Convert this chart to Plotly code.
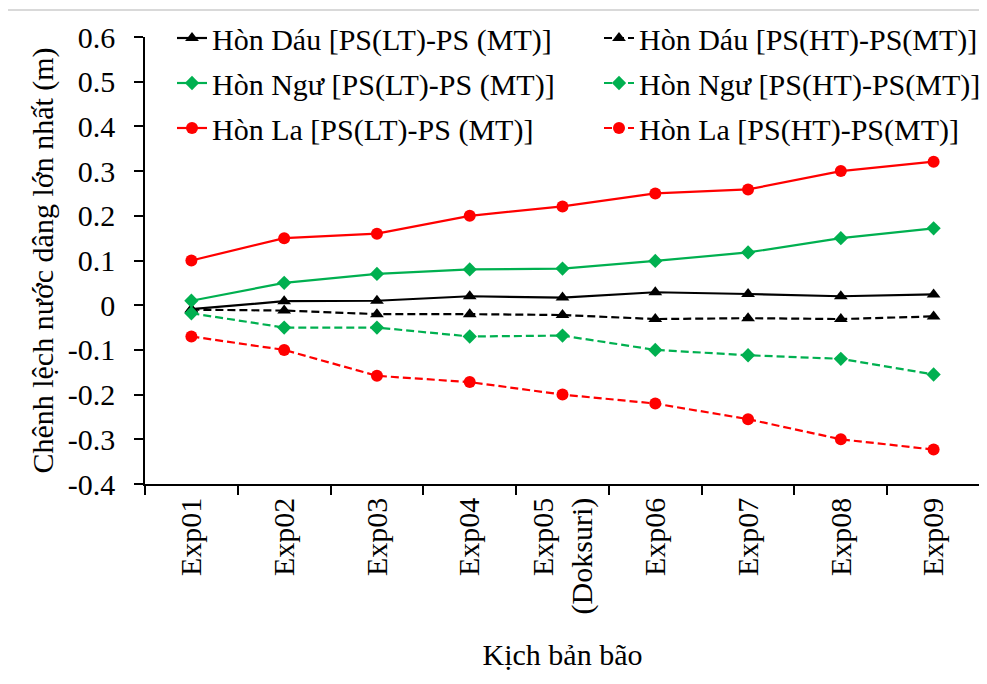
import plotly.graph_objects as go

categories = ["Exp01", "Exp02", "Exp03", "Exp04", "Exp05<br>(Doksuri)",
              "Exp06", "Exp07", "Exp08", "Exp09"]

hon_dau_lt = [-0.009, 0.009, 0.010, 0.020, 0.017, 0.029, 0.025, 0.020, 0.024]
hon_dau_ht = [-0.010, -0.012, -0.020, -0.020, -0.022, -0.031, -0.029, -0.031, -0.025]
hon_ngu_lt = [0.010, 0.050, 0.070, 0.080, 0.082, 0.099, 0.118, 0.150, 0.172]
hon_ngu_ht = [-0.018, -0.050, -0.050, -0.070, -0.068, -0.100, -0.112, -0.120, -0.155]
hon_la_lt = [0.100, 0.150, 0.160, 0.200, 0.221, 0.250, 0.259, 0.300, 0.321]
hon_la_ht = [-0.070, -0.100, -0.158, -0.172, -0.200, -0.220, -0.255, -0.300, -0.323]

y_tickvals = [-0.4, -0.3, -0.2, -0.1, 0, 0.1, 0.2, 0.3, 0.4, 0.5, 0.6]
y_ticktext = ["-0.4", "-0.3", "-0.2", "-0.1", "0", "0.1", "0.2", "0.3", "0.4", "0.5", "0.6"]

names = [
    "Hòn Dáu [PS(LT)-PS (MT)]", "Hòn Dáu [PS(HT)-PS(MT)]",
    "Hòn Ngư [PS(LT)-PS (MT)]", "Hòn Ngư [PS(HT)-PS(MT)]",
    "Hòn La [PS(LT)-PS (MT)]", "Hòn La [PS(HT)-PS(MT)]",
]

FONT = "Liberation Serif"
FS = 30
BLACK = "#000000"
GREEN = "#00B050"
RED = "#FF0000"
DASH = "8px,4px"

series = [
    (hon_dau_lt, names[0], BLACK, "solid", "triangle-up", 12),
    (hon_dau_ht, names[1], BLACK, DASH, "triangle-up", 12),
    (hon_ngu_lt, names[2], GREEN, "solid", "diamond", 11),
    (hon_ngu_ht, names[3], GREEN, DASH, "diamond", 11),
    (hon_la_lt, names[4], RED, "solid", "circle", 12),
    (hon_la_ht, names[5], RED, DASH, "circle", 12),
]
legend_ids = ["legend", "legend2", "legend3", "legend4", "legend5", "legend6"]

fig = go.Figure()
for (vals, name, color, dash, sym, size), lg in zip(series, legend_ids):
    fig.add_trace(go.Scatter(
        x=categories, y=vals, name=name, mode="lines+markers",
        line=dict(color=color, width=2.2, dash=dash),
        marker=dict(symbol=sym, size=size, color=color),
        legend=lg,
    ))

# browser body margin offsets the figure by 8px
OFF = 8
W, H = 987 - OFF, 684 - OFF
L, R, T, B = 145 - OFF, 7, 37 - OFF, 200
pw, ph = W - L - R, H - T - B


def px_x(p):
    return (p - OFF - L) / pw


def px_y(p):
    return (H - B - (p - OFF)) / ph


leg_common = dict(
    orientation="v", xanchor="left", yanchor="middle",
    bgcolor="rgba(0,0,0,0)", font=dict(family=FONT, size=FS, color="black"),
    itemwidth=30, borderwidth=0,
)
col_x = [172, 599]
row_y = [38, 83, 128]
legends = {}
for i, lg in enumerate(legend_ids):
    r, c = divmod(i, 2)
    legends[lg] = dict(x=px_x(col_x[c]), y=px_y(row_y[r]), **leg_common)

fig.update_layout(
    width=W, height=H,
    margin=dict(l=L, r=R, t=T, b=B, autoexpand=False),
    paper_bgcolor="white", plot_bgcolor="white",
    font=dict(family=FONT, size=FS, color="black"),
    showlegend=True,
    **legends,
    xaxis=dict(
        type="category", range=[-0.5, 8.5],
        showline=True, linecolor="black", linewidth=1.5,
        ticks="outside", tickson="boundaries", ticklen=9, tickwidth=1.5,
        tickcolor="black", tickangle=-90, showgrid=False, zeroline=False,
        tickfont=dict(family=FONT, size=FS),
        title=dict(text="Kịch bản bão", font=dict(family=FONT, size=FS), standoff=31),
        automargin=False,
    ),
    yaxis=dict(
        range=[-0.4, 0.6], tickvals=y_tickvals, ticktext=y_ticktext,
        showline=True, linecolor="black", linewidth=1.5,
        ticks="outside", ticklen=9, tickwidth=1.5, tickcolor="black",
        showgrid=False, zeroline=False, ticklabelstandoff=13,
        tickfont=dict(family=FONT, size=FS),
        title=dict(text="Chênh lệch nước dâng lớn nhất (m)",
                   font=dict(family=FONT, size=FS), standoff=5),
        automargin=False,
    ),
    shapes=[dict(
        type="rect", xref="paper", yref="paper",
        x0=px_x(7), x1=px_x(1100), y0=px_y(800), y1=px_y(10),
        line=dict(color="#D9D9D9", width=2), fillcolor="rgba(0,0,0,0)",
        layer="below",
    )],
)

fig.write_html("out.html")
